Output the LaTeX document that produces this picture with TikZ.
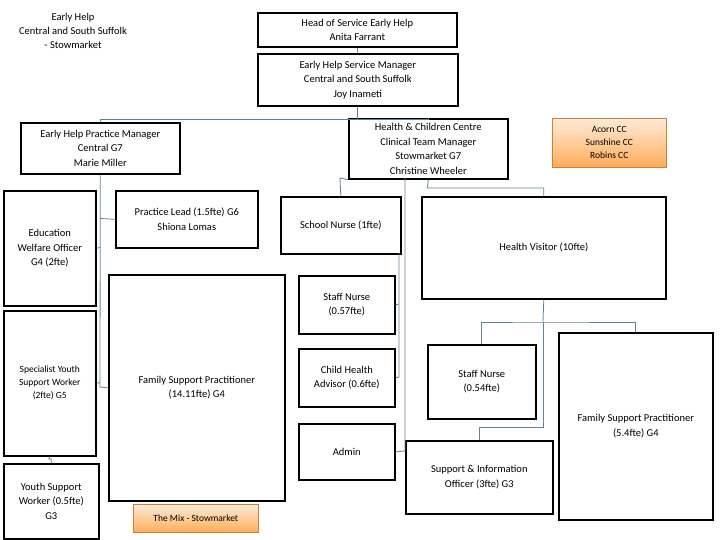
\documentclass[tikz,border=0pt]{standalone}
\usepackage{fontspec}
\setmainfont{Carlito}
\definecolor{connc}{RGB}{100,130,150}
\begin{document}
\begin{tikzpicture}[x=1pt,y=-1pt,
  box/.style={draw=black,line width=1.6pt,align=center,anchor=north west,inner sep=2pt,font=\fontsize{10.5}{14.5}\selectfont},
  obox/.style={draw=orange!75!black!80,line width=0.6pt,top color=orange!15,bottom color=orange!65,align=center,anchor=north west,font=\fontsize{9.5}{13}\selectfont},
  conn/.style={draw=connc,line width=0.8pt}]
\useasboundingbox (0,0) rectangle (720,540);
\node[align=center,font=\fontsize{10.5}{14}\selectfont] (title) at (73,31) {Early Help\\Central and South Suffolk\\- Stowmarket};
\node[box,minimum width=199,minimum height=34] (head) at (257,12) {Head of Service Early Help\\Anita Farrant};
\node[box,minimum width=200,minimum height=52] (mgr) at (257,53) {Early Help Service Manager\\Central and South Suffolk\\Joy Inameti};
\node[box,minimum width=159,minimum height=51] (ehpm) at (20,122) {Early Help Practice Manager\\Central G7\\Marie Miller};
\node[box,minimum width=159,minimum height=60] (hcc) at (348,118) {Health \& Children Centre\\Clinical Team Manager\\Stowmarket G7\\Christine Wheeler};
\node[obox,minimum width=114,minimum height=49] (acorn) at (552,118) {Acorn CC\\Sunshine CC\\Robins CC};
\node[box,minimum width=92,minimum height=115] (edu) at (3,190) {Education\\Welfare Officer\\G4 (2fte)};
\node[box,minimum width=92,minimum height=145,font=\fontsize{9.5}{13}\selectfont] (syw) at (3,310) {Specialist Youth\\Support Worker\\(2fte) G5};
\node[box,minimum width=95,minimum height=75] (ysw) at (3,463) {Youth Support\\Worker (0.5fte)\\G3};
\node[box,minimum width=142,minimum height=57] (pl) at (115,190) {Practice Lead (1.5fte) G6\\Shiona Lomas};
\node[box,minimum width=176,minimum height=226] (fsp1) at (108,274) {Family Support Practitioner\\(14.11fte) G4};
\node[obox,minimum width=125,minimum height=28] (mix) at (133,504) {The Mix - Stowmarket};
\node[box,minimum width=120,minimum height=57] (sn) at (280,196) {School Nurse (1fte)};
\node[box,minimum width=96,minimum height=58] (sn57) at (298,275) {Staff Nurse\\(0.57fte)};
\node[box,minimum width=96,minimum height=58] (cha) at (298,348) {Child Health\\Advisor (0.6fte)};
\node[box,minimum width=96,minimum height=56] (admin) at (298,423) {Admin};
\node[box,minimum width=147,minimum height=73] (sip) at (405,440) {Support \& Information\\Officer (3fte) G3};
\node[box,minimum width=244,minimum height=102] (hv) at (421,196) {Health Visitor (10fte)};
\node[box,minimum width=108,minimum height=74] (sn54) at (427,344) {Staff Nurse\\(0.54fte)};
\node[box,minimum width=154,minimum height=187] (fsp2) at (558,332) {Family Support Practitioner\\(5.4fte) G4};
% connectors
\draw[conn] (head.south) -- (mgr.north);
\draw[conn] (mgr.south) -- ++(0,13) -| (ehpm.north);
\draw[conn] (mgr.south) ++(0,13) -| (hcc.north);
\draw[conn] (ehpm.south) -- (100,387) -- (fsp1.west);
\draw[conn] (edu.east) -- (100,247.5);
\draw[conn] (pl.west) -- (100,218.5);
\draw[conn] (syw.east) -- (100,382.5);
\draw[conn] (syw.south) -- (49,459) -| (ysw.north);
\draw[conn] (hcc.south west) -- (340,178) -- (sn.north);
\draw[conn] (399,253) -- (399,377) -- (cha.east);
\draw[conn] (sn57.east) -- (399,304);
\draw[conn] (405,178) -- (405,451) -- (admin.east);
\draw[conn] (hcc.south) -- (427.5,188) -| (hv.north);
\draw[conn] (hv.south) -- (543,322);
\draw[conn] (sn54.north) |- (543,322) -| (fsp2.north);
\draw[conn] (543,322) -- (543,427) -| (sip.north);
\end{tikzpicture}
\end{document}
